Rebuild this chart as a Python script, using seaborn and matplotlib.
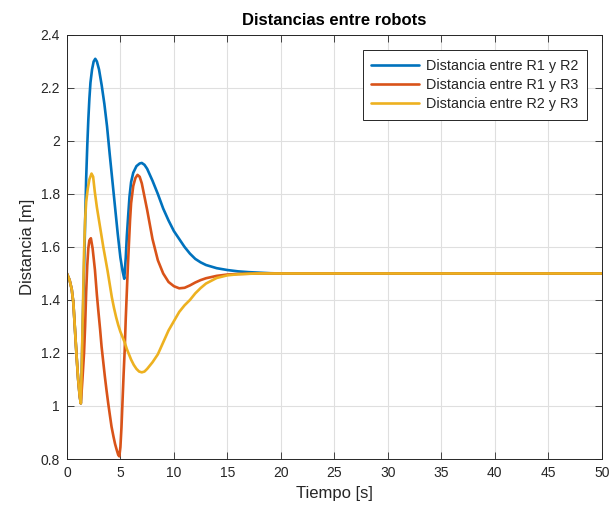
import matplotlib
matplotlib.use("Agg")
import matplotlib.pyplot as plt
import numpy as np
import pandas as pd
import seaborn as sns
from matplotlib.ticker import FuncFormatter

# Distance between robot pairs over time (s, m)
t_r12 = [0, 0.25, 0.45, 0.6, 0.75, 0.9, 1.05, 1.2, 1.3, 1.4, 1.5, 1.6, 1.7, 1.8, 1.9,
         2.0, 2.1, 2.2, 2.35, 2.5, 2.65, 2.8, 3.0, 3.25, 3.5, 3.75, 4.0, 4.25, 4.5,
         4.75, 5.0, 5.2, 5.36, 5.5, 5.6, 5.73, 5.85, 6.0, 6.2, 6.5, 6.8, 7.0, 7.25,
         7.5, 8.0, 8.5, 9.0, 9.5, 10.0, 10.5, 11.0, 11.5, 12.0, 12.5, 13.0, 14.0,
         15.0, 16.0, 17.0, 18.0, 19.0, 20.0, 25, 30, 35, 40, 45, 50]
d_r12 = [1.5, 1.475, 1.44, 1.39, 1.29, 1.19, 1.1, 1.035, 1.01, 1.17, 1.35, 1.52, 1.69,
         1.86, 1.98, 2.08, 2.16, 2.22, 2.27, 2.30, 2.31, 2.30, 2.27, 2.21, 2.14, 2.055,
         1.95, 1.85, 1.75, 1.65, 1.56, 1.51, 1.48, 1.56, 1.64, 1.72, 1.79, 1.845, 1.88,
         1.905, 1.915, 1.917, 1.91, 1.895, 1.85, 1.80, 1.745, 1.70, 1.66, 1.63, 1.60,
         1.575, 1.555, 1.542, 1.532, 1.52, 1.513, 1.508, 1.505, 1.503, 1.501, 1.5,
         1.5, 1.5, 1.5, 1.5, 1.5, 1.5]

t_r13 = [0, 0.25, 0.45, 0.6, 0.75, 0.9, 1.05, 1.2, 1.3, 1.45, 1.6, 1.7, 1.8, 1.9, 2.0,
         2.1, 2.24, 2.4, 2.62, 2.8, 2.93, 3.1, 3.24, 3.4, 3.55, 3.7, 3.86, 4.0, 4.17,
         4.35, 4.5, 4.65, 4.8, 4.9, 5.0, 5.1, 5.2, 5.3, 5.4, 5.5, 5.6, 5.7, 5.8, 5.9,
         6.0, 6.2, 6.4, 6.6, 6.8, 7.0, 7.25, 7.5, 7.75, 8.0, 8.5, 9.0, 9.5, 10.0, 10.5,
         11.0, 11.5, 12.0, 12.5, 13.0, 14.0, 15.0, 16.0, 18.0, 20.0, 25, 30, 35, 40,
         45, 50]
d_r13 = [1.5, 1.475, 1.44, 1.39, 1.29, 1.19, 1.1, 1.035, 1.01, 1.1, 1.2, 1.3, 1.43,
         1.53, 1.595, 1.625, 1.633, 1.595, 1.513, 1.42, 1.362, 1.29, 1.224, 1.165,
         1.11, 1.06, 1.01, 0.97, 0.922, 0.885, 0.857, 0.835, 0.815, 0.81, 0.845, 0.92,
         1.02, 1.12, 1.21, 1.33, 1.43, 1.53, 1.615, 1.70, 1.765, 1.83, 1.86, 1.872,
         1.865, 1.84, 1.79, 1.74, 1.685, 1.63, 1.55, 1.50, 1.468, 1.452, 1.444, 1.446,
         1.455, 1.466, 1.475, 1.482, 1.491, 1.496, 1.498, 1.5, 1.5, 1.5, 1.5, 1.5,
         1.5, 1.5, 1.5]

t_r23 = [0, 0.25, 0.45, 0.6, 0.75, 0.9, 1.05, 1.2, 1.3, 1.4, 1.5, 1.6, 1.7, 1.8, 1.95,
         2.1, 2.3, 2.45, 2.6, 2.8, 3.0, 3.2, 3.4, 3.6, 3.8, 4.0, 4.2, 4.4, 4.6, 4.8,
         5.0, 5.2, 5.4, 5.6, 5.8, 6.0, 6.25, 6.5, 6.75, 7.0, 7.25, 7.5, 8.0, 8.5, 9.0,
         9.5, 10.0, 10.5, 11.0, 11.5, 12.0, 12.5, 13.0, 14.0, 15.0, 16.0, 17.0, 18.0,
         20.0, 25, 30, 35, 40, 45, 50]
d_r23 = [1.5, 1.475, 1.44, 1.39, 1.29, 1.19, 1.1, 1.035, 1.01, 1.18, 1.38, 1.58, 1.70,
         1.77, 1.82, 1.855, 1.877, 1.865, 1.81, 1.75, 1.70, 1.65, 1.60, 1.555, 1.51,
         1.46, 1.41, 1.37, 1.335, 1.305, 1.28, 1.26, 1.24, 1.215, 1.195, 1.175, 1.155,
         1.14, 1.13, 1.127, 1.13, 1.14, 1.165, 1.195, 1.24, 1.285, 1.32, 1.355, 1.38,
         1.40, 1.425, 1.445, 1.462, 1.483, 1.493, 1.497, 1.499, 1.5, 1.5, 1.5, 1.5,
         1.5, 1.5, 1.5, 1.5]

series_names = ["Distancia entre R1 y R2", "Distancia entre R1 y R3",
                "Distancia entre R2 y R3"]
series_colors = ["#0072BD", "#D95319", "#EDB120"]

x_ticks = [0, 5, 10, 15, 20, 25, 30, 35, 40, 45, 50]
y_ticks = [0.8, 1.0, 1.2, 1.4, 1.6, 1.8, 2.0, 2.2, 2.4]

df = pd.concat([
    pd.DataFrame({"t": t, "d": d, "serie": name})
    for t, d, name in zip([t_r12, t_r13, t_r23], [d_r12, d_r13, d_r23], series_names)
], ignore_index=True)

sns.set_theme(style="ticks")
plt.rcParams["font.family"] = ["Liberation Sans", "DejaVu Sans"]

fig = plt.figure(figsize=(6.14, 5.14), dpi=100)
ax = fig.add_axes([0.109, 0.107, 0.871, 0.825])

sns.lineplot(data=df, x="t", y="d", hue="serie", hue_order=series_names,
             palette=series_colors, estimator=None, sort=False, lw=1.9, ax=ax)

ax.set_xlim(0, 50)
ax.set_ylim(0.8, 2.4)
ax.set_xticks(x_ticks)
ax.set_yticks(y_ticks)
ax.yaxis.set_major_formatter(FuncFormatter(lambda v, p: f"{round(v, 2):g}"))
ax.xaxis.set_major_formatter(FuncFormatter(lambda v, p: f"{round(v, 2):g}"))

ax.grid(True, color="#dfdfdf", lw=0.8)
ax.set_axisbelow(True)
ax.tick_params(direction="in", top=True, right=True, length=5, width=0.6,
               colors="#262626", labelsize=10, pad=5)
for sp in ax.spines.values():
    sp.set_visible(True)
    sp.set_color("#262626")
    sp.set_linewidth(0.7)

ax.set_xlabel("Tiempo [s]", fontsize=12, color="#262626")
ax.set_ylabel("Distancia [m]", fontsize=12, color="#262626")
ax.set_title("Distancias entre robots", fontsize=12, fontweight="bold",
             color="#000000", pad=7)

handles, labels = ax.get_legend_handles_labels()
leg = ax.legend(handles, labels, loc="upper right", fancybox=False, framealpha=1,
                edgecolor="#262626", fontsize=10.4, handlelength=3.3,
                borderaxespad=1.05, borderpad=0.6, labelspacing=0.36,
                handletextpad=0.45)
leg.get_frame().set_linewidth(0.7)

fig.savefig("out.png", dpi=100)
